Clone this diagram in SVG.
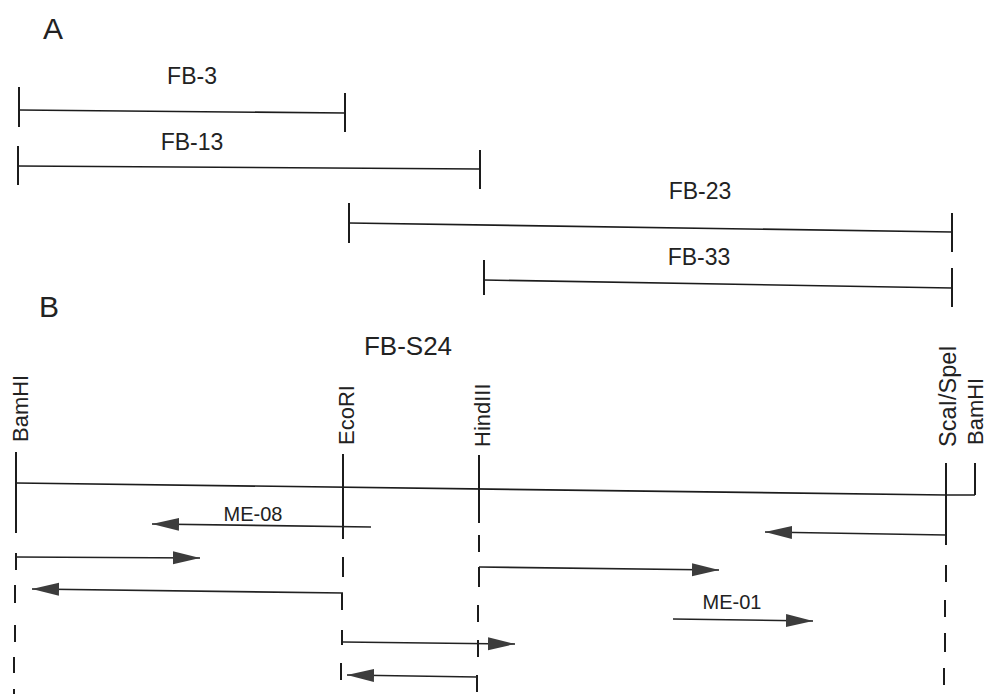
<svg xmlns="http://www.w3.org/2000/svg" width="989" height="694" viewBox="0 0 989 694">
<style>
  .ln{stroke:#1c1c1c;stroke-width:1.6;fill:none;stroke-linecap:butt}
  .tk{stroke:#1c1c1c;stroke-width:2;fill:none}
  .t{font-family:"Liberation Sans",Arial,Helvetica,sans-serif;fill:#222}
  .lbl{font-size:23px;text-anchor:middle}
  .big{font-size:30px}
  .v{font-size:22px}
  .me{font-size:20px;text-anchor:middle}
  .ar{stroke:#222;stroke-width:1.6;fill:none;marker-end:url(#ah)}
</style>
<defs>
  <marker id="ah" markerUnits="userSpaceOnUse" markerWidth="28" markerHeight="14" refX="27" refY="7" orient="auto">
    <path d="M0,0.5 L27,7 L0,13.5 Z" fill="#3c3c3c"/>
  </marker>
</defs>
<rect width="989" height="694" fill="#ffffff"/>

<g id="panelA">
  <text class="t big" x="43" y="39">A</text>
  <g id="FB-3">
    <text class="t lbl" x="192" y="84">FB-3</text>
    <path class="ln" d="M19,110 L345,113"/>
    <path class="tk" d="M19,87 V127 M345,93 V132"/>
  </g>
  <g id="FB-13">
    <text class="t lbl" x="192" y="150">FB-13</text>
    <path class="ln" d="M18,166 L480,169"/>
    <path class="tk" d="M18,146 V185 M480,150 V189"/>
  </g>
  <g id="FB-23">
    <text class="t lbl" x="700" y="199">FB-23</text>
    <path class="ln" d="M349,223 L952,232"/>
    <path class="tk" d="M349,203 V243 M952,213 V252"/>
  </g>
  <g id="FB-33">
    <text class="t lbl" x="699" y="265">FB-33</text>
    <path class="ln" d="M484,280 L952,288"/>
    <path class="tk" d="M484,260 V295 M952,268 V307"/>
  </g>
</g>

<g id="panelB">
  <text class="t big" x="39" y="317">B</text>
  <g id="FB-S24">
    <text class="t" x="408" y="355" font-size="26" text-anchor="middle">FB-S24</text>
    <path class="ln" d="M16,483 L946,495 L975,495"/>
  </g>
  <g id="site-BamHI-left">
    <text class="t v" transform="translate(28,442) rotate(-90)">BamHI</text>
    <path class="tk" d="M16,452 V533 M16,553 V570 M15,585 V603 M15,625 V642 M14,657 V673 M14,689 V694"/>
  </g>
  <g id="site-EcoRI">
    <text class="t v" transform="translate(354,445) rotate(-90)">EcoRI</text>
    <path class="tk" d="M343,454 V539 M343,557 V577 M342,593 V610 M342,630 V645 M341,663 V680"/>
  </g>
  <g id="site-HindIII">
    <text class="t v" transform="translate(490,447) rotate(-90)">HindIII</text>
    <path class="tk" d="M479,455 V523 M479,535 V552 M479,567 V587 M478,605 V622 M478,640 V657 M477,675 V692"/>
  </g>
  <g id="site-ScaI-SpeI">
    <text class="t" font-size="23.5" transform="translate(956,447) rotate(-90)">ScaI/SpeI</text>
    <path class="tk" d="M946,463 V545 M946,565 V582 M945,600 V617 M945,633 V652 M944,668 V685"/>
  </g>
  <g id="site-BamHI-right">
    <text class="t v" transform="translate(983,445) rotate(-90)">BamHI</text>
    <path class="tk" d="M975,463 V495"/>
  </g>
  <g id="label-ME-08"><text class="t me" x="253" y="521">ME-08</text></g>
  <g id="label-ME-01"><text class="t me" x="732" y="609">ME-01</text></g>
</g>

<g id="connectors">
  <path class="ar" d="M371,527 L152,524"/>
  <path class="ar" d="M16,557 L200,558"/>
  <path class="ar" d="M343,593 L32,589"/>
  <path class="ar" d="M343,642 L515,644"/>
  <path class="ar" d="M477,677 L347,675"/>
  <path class="ar" d="M946,535 L765,532"/>
  <path class="ar" d="M479,567 L719,570"/>
  <path class="ar" d="M673,619 L813,621"/>
</g>
</svg>
